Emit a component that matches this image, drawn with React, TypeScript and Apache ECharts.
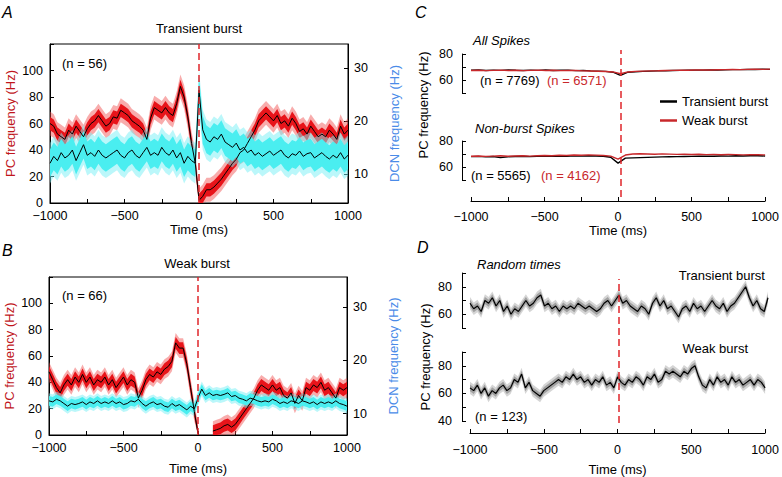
import React, { useEffect, useRef } from 'react';
import * as echarts from 'echarts';

// time bins (ms)
const times = [
  -1000, -975, -950, -925, -900, -875, -850, -825, -800, -775,
  -750, -725, -700, -675, -650, -625, -600, -575, -550, -525,
  -500, -475, -450, -425, -400, -375, -350, -325, -300, -275,
  -250, -225, -200, -175, -150, -125, -100, -75, -50, -25,
  0,
  25, 50, 75, 100, 125, 150, 175, 200, 225, 250,
  275, 300, 325, 350, 375, 400, 425, 450, 475, 500,
  525, 550, 575, 600, 625, 650, 675, 700, 725, 750,
  775, 800, 825, 850, 875, 900, 925, 950, 975, 1000,
];

// Panel A – transient burst
const pcA = [
  60, 58, 52, 50, 48, 55, 52, 58, 54, 50,
  56, 60, 62, 66, 62, 58, 60, 65, 64, 70,
  68, 66, 62, 60, 58, 55, 48, 64, 72, 70,
  68, 72, 68, 66, 75, 88, 80, 65, 45, 30,
  2,
  5, 10, 10, 12, 15, 18, 22, 26, 30, 33,
  38, 40, 45, 50, 55, 62, 65, 68, 65, 62,
  66, 60, 62, 58, 64, 60, 54, 56, 52, 58,
  54, 50, 52, 50, 55, 52, 48, 58, 52, 55,
];
const dcnA = [
  12.0, 13.3, 12.5, 14.0, 13.0, 13.5, 14.5, 12.5, 14.0, 15.5,
  13.5, 14.0, 13.3, 14.5, 13.5, 13.0, 13.5, 14.0, 14.5, 13.5,
  13.0, 14.0, 14.5, 13.5, 13.0, 14.0, 15.0, 13.5, 14.0, 13.5,
  15.0, 14.0, 13.5, 14.5, 13.0, 14.0, 12.0, 13.3, 12.5, 12.0,
  25.8,
  18.3, 16.5, 16.0, 17.0, 16.5, 17.5, 16.0, 15.5, 15.0, 15.8,
  14.5, 15.0, 14.0, 14.5, 13.5, 14.0, 13.3, 13.8, 14.3, 13.5,
  14.0, 14.5, 13.5, 13.0, 13.8, 13.5, 14.3, 13.3, 13.8, 14.0,
  13.0, 13.5, 14.0, 13.3, 12.8, 13.5, 13.0, 14.0, 12.8, 13.5,
];

// Panel B – weak burst
const pcB = [
  48, 42, 36, 32, 38, 42, 38, 44, 40, 46,
  40, 44, 38, 42, 40, 44, 38, 42, 36, 40,
  44, 38, 42, 40, 28, 34, 42, 46, 44, 48,
  46, 50, 52, 56, 70, 66, 66, 54, 36, 18,
  1,
  null, null, null, 3, 4, 5, 7, 8, 6, 8,
  12, 16, 20, 24, 28, 34, 38, 36, 34, 38,
  34, 36, 30, 28, 32, 24, 30, 26, 36, 34,
  38, 36, 40, 34, 36, 32, 28, 36, 34, 36,
];
const dcnB = [
  12.4, 12.2, 12.7, 12.4, 11.9, 11.4, 11.9, 11.7, 11.9, 12.2,
  11.7, 12.2, 11.9, 12.4, 11.9, 12.2, 11.9, 12.4, 11.9, 12.2,
  11.7, 11.9, 12.4, 12.2, 12.7, 11.9, 11.4, 11.9, 12.2, 11.7,
  11.9, 11.4, 11.2, 11.9, 11.4, 11.7, 11.2, 10.7, 11.4, 10.9,
  12.9,
  14.6, 13.4, 13.9, 13.4, 13.6, 13.4, 13.6, 13.9, 13.2, 13.4,
  12.9, 12.7, 12.4, 12.9, 12.7, 12.4, 12.2, 12.4, 12.2, 12.7,
  12.4, 11.9, 12.2, 11.9, 12.4, 12.2, 11.9, 12.4, 12.2, 11.9,
  12.2, 11.7, 12.2, 11.9, 12.2, 11.9, 12.4, 11.9, 11.7, 11.4,
];

// Panel C
const tC = [
  -1000, -950, -900, -850, -800, -750, -700, -650, -600, -550,
  -500, -450, -400, -350, -300, -250, -200, -150, -100, -50,
  0,
  50, 100, 150, 200, 250, 300, 350, 400, 450, 500,
  550, 600, 650, 700, 750, 800, 850, 900, 950, 1000,
];
const cAllTransient = [
  67.5, 67.8, 67.3, 67.6, 67.4, 67.8, 67.5, 67.3, 67.6, 67.4,
  67.7, 67.3, 67.5, 67.6, 67.2, 67.4, 67.0, 66.8, 66.6, 66.0,
  63.5,
  66.0, 66.4, 66.6, 66.8, 67.0, 67.1, 67.3, 67.4, 67.5, 67.6,
  67.6, 67.8, 67.7, 67.9, 68.0, 68.0, 68.2, 68.1, 68.3, 68.2,
];
const cAllWeak = [
  67.3, 67.5, 67.2, 67.4, 67.6, 67.3, 67.5, 67.2, 67.4, 67.6,
  67.3, 67.5, 67.2, 67.4, 67.3, 67.0, 66.9, 66.7, 66.5, 66.2,
  64.8,
  66.2, 66.6, 66.8, 67.0, 67.1, 67.3, 67.4, 67.5, 67.5, 67.7,
  67.8, 67.7, 67.9, 68.0, 68.1, 68.0, 68.2, 68.3, 68.2, 68.4,
];
const cNonTransient = [
  68.0, 68.2, 67.8, 68.1, 67.2, 67.9, 68.1, 68.3, 68.0, 68.2,
  68.4, 68.2, 68.5, 68.3, 68.6, 68.4, 68.7, 68.5, 68.3, 67.5,
  63.0,
  66.8, 67.0, 67.2, 67.4, 67.6, 67.8, 67.9, 68.0, 68.1, 68.2,
  68.3, 68.4, 68.3, 68.5, 68.4, 68.6, 68.5, 68.7, 68.6, 68.5,
];
const cNonWeak = [
  68.3, 68.5, 68.2, 68.4, 68.6, 68.3, 68.5, 68.7, 68.4, 68.6,
  68.8, 68.6, 69.0, 68.8, 69.2, 69.0, 69.3, 69.1, 68.9, 68.4,
  66.0,
  69.2, 70.0, 70.2, 70.0, 69.8, 70.1, 69.9, 69.7, 69.8, 69.6,
  69.8, 69.5, 69.7, 69.4, 69.6, 69.5, 69.3, 69.5, 69.4, 69.3,
];

// Panel D – random times
const dTransient = [
  68, 64, 66, 62, 70, 68, 72, 66, 70, 62,
  66, 60, 64, 62, 66, 70, 66, 68, 72, 74,
  66, 68, 64, 66, 62, 66, 64, 66, 64, 68,
  66, 64, 66, 64, 62, 64, 68, 70, 66, 70,
  74,
  68, 70, 66, 64, 62, 66, 64, 60, 68, 72,
  66, 70, 64, 66, 62, 58, 64, 66, 62, 68,
  64, 66, 62, 66, 70, 66, 64, 68, 62, 66,
  68, 72, 76, 80, 72, 66, 70, 64, 62, 72,
];
const dWeak = [
  64, 62, 66, 60, 64, 58, 62, 60, 64, 66,
  62, 64, 70, 68, 74, 64, 68, 62, 60, 58,
  62, 64, 66, 68, 70, 68, 72, 70, 74, 70,
  72, 68, 70, 66, 70, 68, 72, 66, 68, 64,
  72,
  68, 66, 70, 68, 72, 70, 66, 72, 70, 74,
  68, 70, 76, 74, 76, 74, 72, 76, 74, 78,
  80, 72, 66, 64, 70, 66, 72, 68, 70, 66,
  72, 68, 70, 66, 68, 70, 66, 70, 68, 64,
];

const FONT = '"Liberation Sans", Arial, Helvetica, sans-serif';
const RED = '#e8141a';
const RED_OUT = 'rgba(240,70,70,0.45)';
const CYAN = '#4aeef0';
const CYAN_OUT = 'rgba(120,240,245,0.5)';
const GRAY = '#a0a0a0';
const GRAY_OUT = 'rgba(185,185,185,0.6)';
const DASH = '#e0262b';
const PC_LABEL = '#c0161c';
const DCN_LABEL = '#4a8be8';
const NRED = '#c8282b';

// shaded mean ± half band, drawn as polygons through the axes' own scales
function band(id: string, t: number[], mean: (number | null)[], half: number, color: string,
  xi: number, yi: number, yMin: number, yMax: number) {
  const lo = mean.map((v) => (v == null ? null : Math.max(yMin, v - half)));
  const hi = mean.map((v) => (v == null ? null : Math.min(yMax, v + half)));
  return {
    type: 'custom', name: id, coordinateSystem: 'cartesian2d', xAxisIndex: xi, yAxisIndex: yi,
    silent: true, data: [[t[0], yMin]],
    renderItem: (_params: any, api: any) => {
      const children: any[] = [];
      let seg: number[] = [];
      const flush = () => {
        if (seg.length > 1) {
          const up = seg.map((i) => api.coord([t[i], hi[i]]));
          const dn = seg.slice().reverse().map((i) => api.coord([t[i], lo[i]]));
          children.push({ type: 'polygon', shape: { points: up.concat(dn) }, style: { fill: color } });
        }
        seg = [];
      };
      for (let i = 0; i < t.length; i++) {
        if (lo[i] == null) flush();
        else seg.push(i);
      }
      flush();
      return { type: 'group', children };
    },
  };
}

function line(name: string, t: number[], v: (number | null)[], color: string, width: number, xi: number, yi: number, extra: any = {}) {
  return {
    type: 'line', name, xAxisIndex: xi, yAxisIndex: yi, symbol: 'none', silent: true,
    data: t.map((x, i) => [x, v[i]]),
    lineStyle: { color, width }, itemStyle: { color },
    ...extra,
  };
}

const dashMark = {
  silent: true, symbol: 'none', label: { show: false },
  lineStyle: { color: DASH, type: [7, 4], width: 1.5 },
  data: [{ xAxis: 0 }],
};

const fmtX = (v: number) => (v % 500 === 0 ? (v < 0 ? '\u2212' + Math.abs(v) : String(v)) : '');

const lbl = (margin: number, extra: any = {}) => ({ color: '#000', fontSize: 12.5, fontFamily: FONT, margin, ...extra });
const axLine = { show: true, onZero: false, lineStyle: { color: '#000', width: 1 } };
const tick = (extra: any = {}) => ({ show: true, inside: true, length: 4, lineStyle: { color: '#000', width: 1 }, ...extra });
const nameStyle = (color: string) => ({ color, fontSize: 13, fontFamily: FONT });

function xAxisCfg(gridIndex: number, show: boolean, offset: number, margin: number, nameGap: number | null) {
  return {
    type: 'value', gridIndex, min: -1000, max: 1000, interval: 250, show, offset,
    axisLine: axLine, axisTick: tick(), splitLine: { show: false },
    axisLabel: lbl(margin, { formatter: fmtX }),
    ...(nameGap != null ? { name: 'Time (ms)', nameLocation: 'middle', nameGap, nameTextStyle: nameStyle('#000') } : {}),
  };
}

function yAxisSub(gridIndex: number, min: number, max: number, labels: number[], offset: number, margin: number) {
  return {
    type: 'value', gridIndex, min, max, interval: 10, offset,
    axisLine: axLine, axisTick: tick(), splitLine: { show: false },
    axisLabel: lbl(margin, { formatter: (v: number) => (labels.indexOf(v) >= 0 ? String(v) : '') }),
  };
}

const hiddenAxis = (gridIndex: number, min: number, max: number) => ({
  type: 'value', gridIndex, min, max, show: false,
  axisLine: { show: false, onZero: false }, axisTick: { show: false }, axisLabel: { show: false }, splitLine: { show: false },
});

type T = { x: number; y: number; text: string; italic?: boolean; size?: number; align?: string; color?: string; rot?: boolean };
const texts: T[] = [
  { x: 2, y: 12, text: 'A', italic: true, size: 16 },
  { x: 199, y: 28, text: 'Transient burst', align: 'center' },
  { x: 62, y: 63, text: '(n = 56)' },
  { x: 2, y: 250, text: 'B', italic: true, size: 16 },
  { x: 197, y: 263, text: 'Weak burst', align: 'center' },
  { x: 62, y: 295, text: '(n = 66)' },
  { x: 415, y: 12, text: 'C', italic: true, size: 16 },
  { x: 473, y: 40, text: 'All Spikes', italic: true },
  { x: 480, y: 80, text: '(n = 7769)' },
  { x: 547, y: 80, text: '(n = 6571)', color: NRED },
  { x: 475, y: 128, text: 'Non-burst Spikes', italic: true },
  { x: 471, y: 175, text: '(n = 5565)' },
  { x: 541, y: 175, text: '(n = 4162)', color: NRED },
  { x: 417, y: 247, text: 'D', italic: true, size: 16 },
  { x: 477, y: 264, text: 'Random times', italic: true },
  { x: 765, y: 275, text: 'Transient burst', align: 'right' },
  { x: 748, y: 348, text: 'Weak burst', align: 'right' },
  { x: 475, y: 416, text: '(n = 123)' },
  { x: 423, y: 105, text: 'PC frequency (Hz)', align: 'center', rot: true },
  { x: 425, y: 357, text: 'PC frequency (Hz)', align: 'center', rot: true },
];

function buildOption() {
  const grids = [
    { left: 50, top: 44, width: 298, height: 159, show: true, borderColor: '#000', borderWidth: 1 },
    { left: 49, top: 277, width: 298, height: 158, show: true, borderColor: '#000', borderWidth: 1 },
    { left: 471, top: 54, width: 299, height: 39 },
    { left: 471, top: 141, width: 299, height: 39 },
    { left: 471, top: 50, width: 299, height: 147 },
    { left: 470, top: 273, width: 298, height: 55 },
    { left: 470, top: 352, width: 298, height: 69 },
    { left: 470, top: 279, width: 298, height: 144 },
  ];
  const xAxes = [
    xAxisCfg(0, true, 0, 6, 20),
    xAxisCfg(1, true, 0, 6, 27),
    hiddenAxis(2, -1000, 1000),
    xAxisCfg(3, true, 21, 9, 21),
    hiddenAxis(4, -1000, 1000),
    hiddenAxis(5, -1000, 1000),
    xAxisCfg(6, true, 12, 10, 30),
    hiddenAxis(7, -1000, 1000),
  ];
  const pcLeft = (gridIndex: number) => ({
    type: 'value', gridIndex, min: 0, max: 120, interval: 20,
    axisLine: axLine, axisTick: tick(), splitLine: { show: false },
    axisLabel: lbl(7, { formatter: (v: number) => (v === 120 ? '' : String(v)) }),
    name: 'PC frequency (Hz)', nameLocation: 'middle', nameGap: 33, nameRotate: 90,
    nameTextStyle: nameStyle(PC_LABEL),
  });
  const dcnRight = (gridIndex: number, min: number, max: number) => ({
    type: 'value', gridIndex, position: 'right', min, max,
    axisLine: axLine, axisTick: tick({ customValues: [10, 20, 30] }), splitLine: { show: false },
    axisLabel: lbl(6, { customValues: [10, 20, 30] }),
    name: 'DCN frequency (Hz)', nameLocation: 'middle', nameGap: 40, nameRotate: 90,
    nameTextStyle: nameStyle(DCN_LABEL),
  });
  const yAxes = [
    pcLeft(0),
    dcnRight(0, 4.5, 34.5),
    pcLeft(1),
    dcnRight(1, 6, 35.6),
    yAxisSub(2, 50, 80, [60, 80], 9, 9),
    yAxisSub(3, 50, 80, [60, 80], 9, 9),
    hiddenAxis(4, 0, 1),
    yAxisSub(5, 50, 90, [60, 80], 8, 10),
    yAxisSub(6, 40, 90, [40, 60, 80], 8, 10),
    hiddenAxis(7, 0, 1),
  ];

  const series: any[] = [
    // A
    band('redAo', times, pcA, 9, RED_OUT, 0, 0, 0, 120),
    band('redAi', times, pcA, 5, RED, 0, 0, 0, 120),
    line('pcA', times, pcA, '#000', 1, 0, 0, { markLine: dashMark }),
    band('cyAo', times, dcnA, 3.8, CYAN_OUT, 0, 1, 4.5, 34.5),
    band('cyAi', times, dcnA, 2.6, CYAN, 0, 1, 4.5, 34.5),
    line('dcnA', times, dcnA, '#000', 1, 0, 1),
    // B
    band('redBo', times, pcB, 7.5, RED_OUT, 1, 2, 0, 120),
    band('redBi', times, pcB, 4.5, RED, 1, 2, 0, 120),
    line('pcB', times, pcB, '#000', 1, 1, 2, { markLine: dashMark }),
    band('cyBo', times, dcnB, 1.4, CYAN_OUT, 1, 3, 6, 35.6),
    band('cyBi', times, dcnB, 0.9, CYAN, 1, 3, 6, 35.6),
    line('dcnB', times, dcnB, '#000', 1, 1, 3),
    // C
    line('Transient burst', tC, cAllTransient, '#000', 1.4, 2, 4),
    line('Weak burst', tC, cAllWeak, NRED, 1.4, 2, 4),
    line('Transient burst', tC, cNonTransient, '#000', 1.4, 3, 5),
    line('Weak burst', tC, cNonWeak, NRED, 1.4, 3, 5),
    { type: 'line', name: 'dashC', xAxisIndex: 4, yAxisIndex: 6, data: [[0, 0.5]], symbol: 'none', lineStyle: { opacity: 0 }, silent: true, markLine: dashMark },
    // D
    band('gDo', times, dTransient, 4.5, GRAY_OUT, 5, 7, 50, 90),
    band('gDi', times, dTransient, 2.5, GRAY, 5, 7, 50, 90),
    line('dT', times, dTransient, '#000', 1.2, 5, 7),
    band('gWo', times, dWeak, 4.5, GRAY_OUT, 6, 8, 40, 90),
    band('gWi', times, dWeak, 2.5, GRAY, 6, 8, 40, 90),
    line('dW', times, dWeak, '#000', 1.2, 6, 8),
    { type: 'line', name: 'dashD', xAxisIndex: 7, yAxisIndex: 9, data: [[0, 0.5]], symbol: 'none', lineStyle: { opacity: 0 }, silent: true, markLine: dashMark },
  ];

  const graphic = texts.map((t) => ({
    type: 'text', x: t.x, y: t.y, rotation: t.rot ? Math.PI / 2 : 0, silent: true, z: 100,
    style: {
      text: t.text, fill: t.color || '#000',
      font: `${t.italic ? 'italic ' : ''}${t.size || 13}px ${FONT}`,
      align: t.align || 'left', verticalAlign: 'middle',
    },
  }));

  return {
    animation: false,
    backgroundColor: '#fff',
    grid: grids,
    xAxis: xAxes,
    yAxis: yAxes,
    series,
    graphic,
    legend: {
      data: ['Transient burst', 'Weak burst'], orient: 'vertical', left: 655, top: 90,
      icon: 'rect', itemWidth: 17, itemHeight: 2.5, itemGap: 6, selectedMode: false,
      textStyle: { fontSize: 13, color: '#000', fontFamily: FONT },
    },
  };
}

export default function App() {
  const ref = useRef<HTMLDivElement>(null);
  useEffect(() => {
    const chart = echarts.init(ref.current!, null, { renderer: 'svg' });
    chart.setOption(buildOption() as any);
    return () => chart.dispose();
  }, []);
  return <div ref={ref} style={{ position: 'fixed', left: 0, top: 0, width: 782, height: 477, background: '#fff' }} />;
}
